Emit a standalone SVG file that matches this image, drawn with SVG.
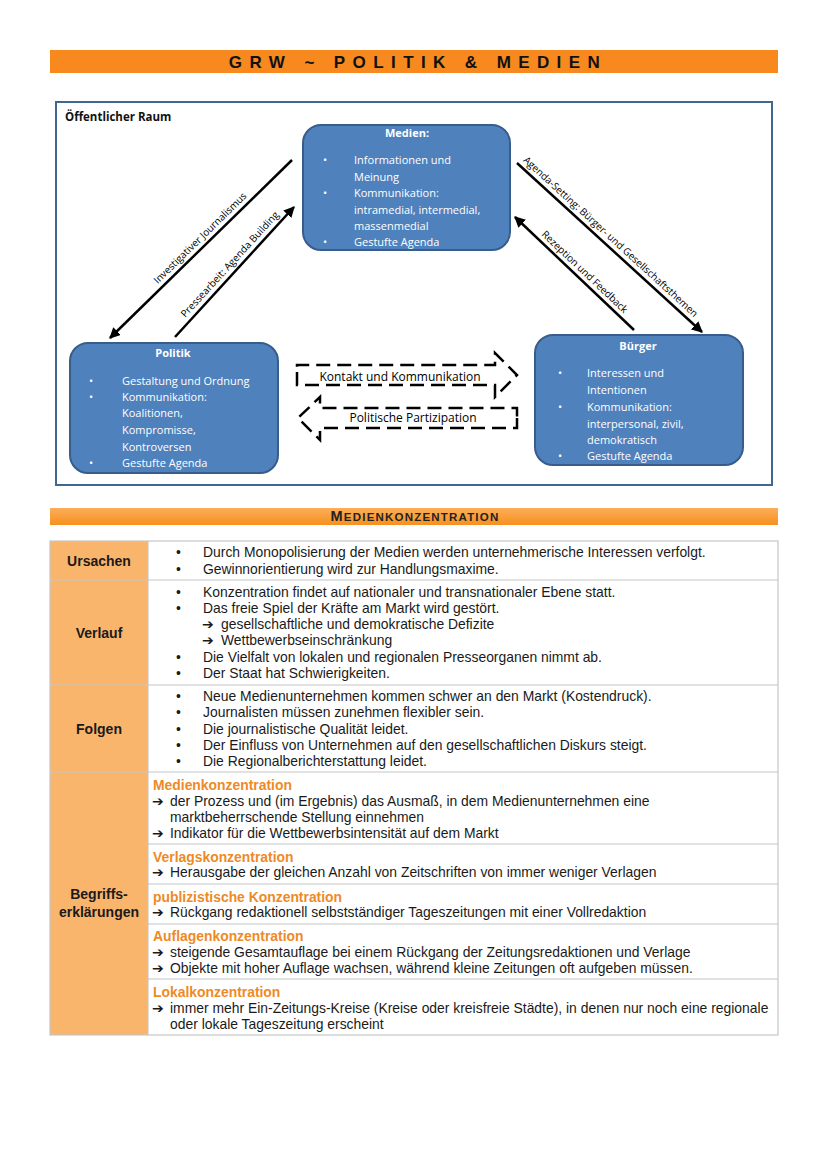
<svg xmlns="http://www.w3.org/2000/svg" width="828" height="1171" viewBox="0 0 828 1171">
<defs>
<marker id="ah" viewBox="0 0 10 10" refX="9" refY="5" markerWidth="4.4" markerHeight="4.4" orient="auto" markerUnits="strokeWidth">
<path d="M0,0 L10,5 L0,10 Z" fill="#000"/>
</marker>
<linearGradient id="bar2" x1="0" y1="0" x2="0" y2="1">
<stop offset="0" stop-color="#FBAE5A"/>
<stop offset="1" stop-color="#F7901F"/>
</linearGradient>
<style>
.box{fill:#4F81BD;stroke:#385D8A;stroke-width:2}
.bt{font-family:"Open Sans","Noto Sans",sans-serif;font-size:11px;fill:#fff}
.bh{font-family:"Open Sans","Noto Sans",sans-serif;font-size:11px;font-weight:bold;fill:#fff;text-anchor:middle}
.ln{stroke:#000;stroke-width:2.5;fill:none;marker-end:url(#ah)}
.lb{font-family:"Open Sans","Noto Sans",sans-serif;font-size:10px;fill:#000;text-anchor:middle}
.dash{stroke:#000;stroke-width:2.5;fill:none;stroke-dasharray:14 7}
.dl{font-family:"Open Sans","Noto Sans",sans-serif;font-size:12px;fill:#000;text-anchor:middle}
.t{font-family:"Liberation Sans",Arial,sans-serif;font-size:13.9px;fill:#1a1a1a}
.ar{font-family:"DejaVu Sans",sans-serif;font-size:14px;font-weight:bold;fill:#1a1a1a}
.h{font-family:"Liberation Sans",Arial,sans-serif;font-size:13.9px;font-weight:bold;fill:#EE8A26}
.lab{font-family:"Liberation Sans",Arial,sans-serif;font-size:14px;font-weight:bold;fill:#1a1a1a;text-anchor:middle}
.grid{stroke:#C6C6C6;stroke-width:1.2;fill:none}
</style>
</defs>
<rect width="828" height="1171" fill="#fff"/>

<!-- Title bar -->
<g id="title">
<rect x="50" y="50" width="728" height="23" fill="#F7891F"/>
<text x="418" y="68" font-family="Liberation Sans, Arial, sans-serif" font-size="17" font-weight="bold" letter-spacing="7.4" text-anchor="middle" fill="#111">GRW ~ POLITIK &amp; MEDIEN</text>
</g>

<!-- Diagram frame -->
<g id="frame">
<rect x="56" y="102" width="716" height="383" fill="#fff" stroke="#41668F" stroke-width="2"/>
<text x="65" y="121" font-family="Open Sans, Noto Sans, sans-serif" font-size="11.5" font-weight="bold" fill="#111">Öffentlicher Raum</text>
</g>

<g id="medien">
<rect class="box" x="303" y="125" width="207" height="125" rx="18"/>
<text class="bh" x="407" y="137">Medien:</text>
<text class="bt" x="323" y="164">•</text>
<text class="bt" x="354" y="164">Informationen und</text>
<text class="bt" x="354" y="181">Meinung</text>
<text class="bt" x="323" y="197">•</text>
<text class="bt" x="354" y="197">Kommunikation:</text>
<text class="bt" x="354" y="214">intramedial, intermedial,</text>
<text class="bt" x="354" y="230">massenmedial</text>
<text class="bt" x="323" y="246">•</text>
<text class="bt" x="354" y="246">Gestufte Agenda</text>
</g>

<g id="politik">
<rect class="box" x="70" y="343" width="208" height="130" rx="18"/>
<text class="bh" x="173" y="357">Politik</text>
<text class="bt" x="89" y="385">•</text>
<text class="bt" x="122" y="385">Gestaltung und Ordnung</text>
<text class="bt" x="89" y="401">•</text>
<text class="bt" x="122" y="401">Kommunikation:</text>
<text class="bt" x="122" y="417">Koalitionen,</text>
<text class="bt" x="122" y="434">Kompromisse,</text>
<text class="bt" x="122" y="451">Kontroversen</text>
<text class="bt" x="89" y="467">•</text>
<text class="bt" x="122" y="467">Gestufte Agenda</text>
</g>

<g id="buerger">
<rect class="box" x="535" y="335" width="208" height="130" rx="18"/>
<text class="bh" x="638" y="350">Bürger</text>
<text class="bt" x="558" y="377">•</text>
<text class="bt" x="587" y="377">Interessen und</text>
<text class="bt" x="587" y="394">Intentionen</text>
<text class="bt" x="558" y="411">•</text>
<text class="bt" x="587" y="411">Kommunikation:</text>
<text class="bt" x="587" y="428">interpersonal, zivil,</text>
<text class="bt" x="587" y="444">demokratisch</text>
<text class="bt" x="558" y="460">•</text>
<text class="bt" x="587" y="460">Gestufte Agenda</text>
</g>

<g id="connectors">
<line class="ln" x1="292" y1="160" x2="110" y2="338"/>
<line class="ln" x1="175" y1="337" x2="294" y2="207"/>
<line class="ln" x1="517" y1="163" x2="702" y2="332"/>
<line class="ln" x1="634" y1="330" x2="515" y2="217"/>
<text class="lb" transform="translate(206,244) rotate(-44.4)" y="-5">Investigativer Journalismus</text>
<text class="lb" transform="translate(236,270) rotate(-47.5)" y="-5">Pressearbeit: Agenda Building</text>
<text class="lb" transform="translate(605,243) rotate(42.4)" y="-5">Agenda-Setting: Bürger- und Gesellschaftsthemen</text>
<text class="lb" transform="translate(579,278) rotate(43.5)" y="-5">Rezeption und Feedback</text>
<path class="dash" d="M297,372 V385 H495 V397 L517,375 L495,353 V365 H297 Z"/>
<text class="dl" x="400" y="381">Kontakt und Kommunikation</text>
<path class="dash" d="M517,418 V428 H320 V440 L298,418 L320,397 V408 H517 Z"/>
<text class="dl" x="413" y="422">Politische Partizipation</text>
</g>

<!-- Section bar -->
<g id="section2">
<rect x="50" y="508" width="728" height="17" fill="url(#bar2)"/>
<text x="415" y="521" font-family="Liberation Sans, Arial, sans-serif" font-weight="bold" fill="#222" text-anchor="middle" letter-spacing="1.2"><tspan font-size="14.5">M</tspan><tspan font-size="11.5">EDIENKONZENTRATION</tspan></text>
</g>

<!-- Table -->
<g id="table">
<rect x="50" y="541" width="98" height="494" fill="#FAB56C"/>
<rect class="grid" x="50" y="541" width="728" height="494"/>
<line class="grid" x1="148" y1="541" x2="148" y2="1035"/>
<line class="grid" x1="50" y1="580" x2="778" y2="580"/>
<line class="grid" x1="50" y1="685" x2="778" y2="685"/>
<line class="grid" x1="50" y1="772" x2="778" y2="772"/>
<line class="grid" x1="148" y1="844" x2="778" y2="844"/>
<line class="grid" x1="148" y1="884" x2="778" y2="884"/>
<line class="grid" x1="148" y1="924" x2="778" y2="924"/>
<line class="grid" x1="148" y1="979" x2="778" y2="979"/>

<g id="ursachen">
<text class="lab" x="99" y="566">Ursachen</text>
<text class="t" x="176" y="557">•</text><text class="t" x="203" y="557">Durch Monopolisierung der Medien werden unternehmerische Interessen verfolgt.</text>
<text class="t" x="176" y="574">•</text><text class="t" x="203" y="574">Gewinnorientierung wird zur Handlungsmaxime.</text>
</g>

<g id="verlauf">
<text class="lab" x="99" y="638">Verlauf</text>
<text class="t" x="176" y="597">•</text><text class="t" x="203" y="597">Konzentration findet auf nationaler und transnationaler Ebene statt.</text>
<text class="t" x="176" y="613">•</text><text class="t" x="203" y="613">Das freie Spiel der Kräfte am Markt wird gestört.</text>
<text class="ar" x="202" y="629">➔</text><text class="t" x="221" y="629">gesellschaftliche und demokratische Defizite</text>
<text class="ar" x="202" y="645">➔</text><text class="t" x="221" y="645">Wettbewerbseinschränkung</text>
<text class="t" x="176" y="662">•</text><text class="t" x="203" y="662">Die Vielfalt von lokalen und regionalen Presseorganen nimmt ab.</text>
<text class="t" x="176" y="678">•</text><text class="t" x="203" y="678">Der Staat hat Schwierigkeiten.</text>
</g>

<g id="folgen">
<text class="lab" x="99" y="734">Folgen</text>
<text class="t" x="176" y="701">•</text><text class="t" x="203" y="701">Neue Medienunternehmen kommen schwer an den Markt (Kostendruck).</text>
<text class="t" x="176" y="717">•</text><text class="t" x="203" y="717">Journalisten müssen zunehmen flexibler sein.</text>
<text class="t" x="176" y="734">•</text><text class="t" x="203" y="734">Die journalistische Qualität leidet.</text>
<text class="t" x="176" y="750">•</text><text class="t" x="203" y="750">Der Einfluss von Unternehmen auf den gesellschaftlichen Diskurs steigt.</text>
<text class="t" x="176" y="766">•</text><text class="t" x="203" y="766">Die Regionalberichterstattung leidet.</text>
</g>

<g id="begriffe">
<text class="lab" x="99" y="899">Begriffs-</text>
<text class="lab" x="99" y="917">erklärungen</text>
<text class="h" x="153" y="790">Medienkonzentration</text>
<text class="ar" x="152" y="806">➔</text><text class="t" x="170" y="806">der Prozess und (im Ergebnis) das Ausmaß, in dem Medienunternehmen eine</text>
<text class="t" x="170" y="822">marktbeherrschende Stellung einnehmen</text>
<text class="ar" x="152" y="838">➔</text><text class="t" x="170" y="838">Indikator für die Wettbewerbsintensität auf dem Markt</text>
<text class="h" x="153" y="862">Verlagskonzentration</text>
<text class="ar" x="152" y="877">➔</text><text class="t" x="170" y="877">Herausgabe der gleichen Anzahl von Zeitschriften von immer weniger Verlagen</text>
<text class="h" x="153" y="902">publizistische Konzentration</text>
<text class="ar" x="152" y="917">➔</text><text class="t" x="170" y="917">Rückgang redaktionell selbstständiger Tageszeitungen mit einer Vollredaktion</text>
<text class="h" x="153" y="941">Auflagenkonzentration</text>
<text class="ar" x="152" y="957">➔</text><text class="t" x="170" y="957">steigende Gesamtauflage bei einem Rückgang der Zeitungsredaktionen und Verlage</text>
<text class="ar" x="152" y="973">➔</text><text class="t" x="170" y="973">Objekte mit hoher Auflage wachsen, während kleine Zeitungen oft aufgeben müssen.</text>
<text class="h" x="153" y="997">Lokalkonzentration</text>
<text class="ar" x="152" y="1013">➔</text><text class="t" x="170" y="1013">immer mehr Ein-Zeitungs-Kreise (Kreise oder kreisfreie Städte), in denen nur noch eine regionale</text>
<text class="t" x="170" y="1029">oder lokale Tageszeitung erscheint</text>
</g>
</g>
</svg>
